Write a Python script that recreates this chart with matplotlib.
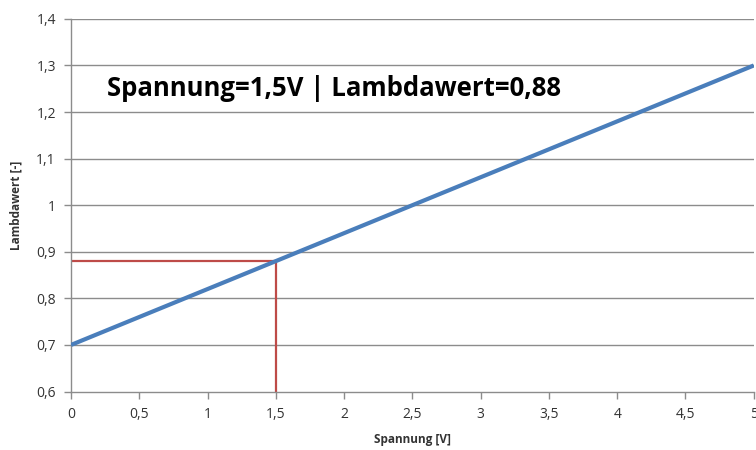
import matplotlib.pyplot as plt
from matplotlib.ticker import FuncFormatter

spannung = [0, 5]
lambdawert = [0.7, 1.3]
mark_x = 1.5
mark_y = 0.88
x_ticks = [0, 0.5, 1, 1.5, 2, 2.5, 3, 3.5, 4, 4.5, 5]
y_ticks = [0.6, 0.7, 0.8, 0.9, 1.0, 1.1, 1.2, 1.3, 1.4]

plt.rcParams["font.family"] = ["Open Sans", "DejaVu Sans"]

fig = plt.figure(figsize=(7.56, 4.5), dpi=100)
ax = fig.add_axes([0.094, 0.13, 0.903, 0.828])

grid_c = "#8c8c8c"
for y in y_ticks[1:]:
    ax.axhline(y, color=grid_c, linewidth=1.0, zorder=1)

ax.plot(spannung, lambdawert, color="#4a7ebb", linewidth=3, solid_capstyle="butt", zorder=3)
ax.plot([0, mark_x], [mark_y, mark_y], color="#be4b48", linewidth=1.6, zorder=2)
ax.plot([mark_x, mark_x], [y_ticks[0], mark_y], color="#be4b48", linewidth=1.6, zorder=2)

ax.set_xlim(0, 5)
ax.set_ylim(0.6, 1.4)
ax.set_xticks(x_ticks)
ax.set_yticks(y_ticks)

fmt = FuncFormatter(lambda v, _: (f"{v:g}").replace(".", ","))
ax.xaxis.set_major_formatter(fmt)
ax.yaxis.set_major_formatter(fmt)

for s in ["top", "right"]:
    ax.spines[s].set_visible(False)
for s in ["left", "bottom"]:
    ax.spines[s].set_color(grid_c)
    ax.spines[s].set_linewidth(1.0)

ax.tick_params(axis="both", direction="out", length=5, width=1, color=grid_c,
               labelsize=10, labelcolor="#333333", pad=6)

ax.set_xlabel("Spannung [V]", fontsize=8.5, fontweight="bold", color="#333333", labelpad=8)
ax.set_ylabel("Lambdawert [-]", fontsize=8.5, fontweight="bold", color="#333333", labelpad=10)

ax.text(0.26, 1.25, f"Spannung={mark_x:g}V | Lambdawert={mark_y:g}".replace(".", ","),
        fontsize=18.5, fontweight="bold", color="black", va="center", ha="left")

fig.savefig("out.png", dpi=100)
